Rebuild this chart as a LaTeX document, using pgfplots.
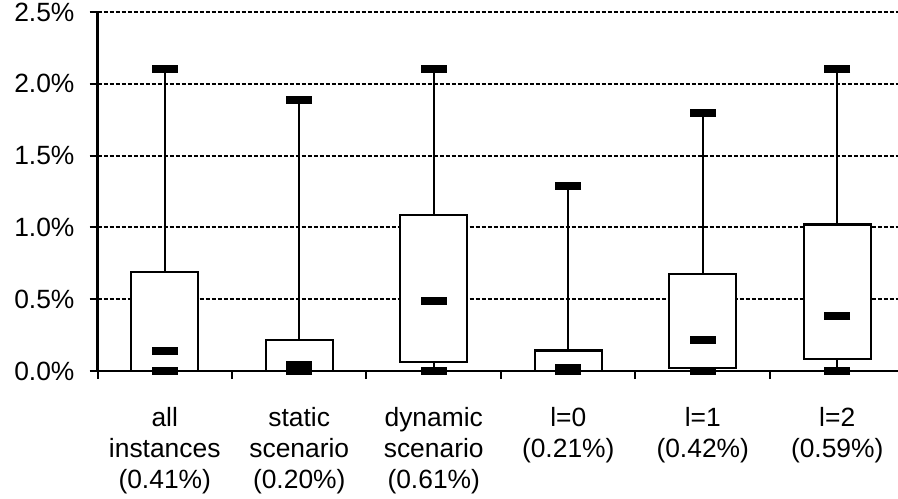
\documentclass[border=0pt]{standalone}
\usepackage{pgfplots}
\pgfplotsset{compat=1.18}
\usepgfplotslibrary{statistics}
\usepackage{fontspec}
\setmainfont{Liberation Sans}
\begin{document}
\begin{tikzpicture}
\useasboundingbox (-48.75pt,-63.5pt) rectangle (400.25pt,185.5pt);
\begin{axis}[
  at={(0pt,0pt)}, anchor=south west,
  scale only axis,
  width=400.25pt, height=179.5pt,
  xmin=0, xmax=5.952,
  ymin=0, ymax=2.5,
  axis lines=left,
  axis line style={-, line width=1.15pt},
  tick align=outside,
  major tick length=4pt,
  tick style={black, line width=1pt},
  xtick={0,1,2,3,4,5},
  xticklabels={},
  extra x ticks={0.5,1.5,2.5,3.5,4.5,5.5},
  extra x tick labels={{all\\instances\\(0.41\%)},{static\\scenario\\(0.20\%)},{dynamic\\scenario\\(0.61\%)},{l=0\\(0.21\%)},{l=1\\(0.42\%)},{l=2\\(0.59\%)}},
  extra x tick style={major tick length=0pt, grid=none,
    xticklabel style={align=center, anchor=north, yshift=-14.5pt}},
  ytick={0,0.5,1,1.5,2,2.5},
  yticklabel={\pgfmathprintnumber[fixed,fixed zerofill,precision=1]{\tick}\%},
  /pgf/number format/assume math mode=true,
  ticklabel style={font=\fontsize{13.2}{15.6}\selectfont},
  yticklabel style={xshift=-4pt},
  ymajorgrids,
  grid style={black, line width=1pt, dash pattern=on 2.2pt off 0.8pt},
  clip=false,
  boxplot/draw direction=y,
  boxplot/draw/median/.code={},
]
\addplot[boxplot prepared={draw position=0.5, lower whisker=0, lower quartile=0, median=0.14, upper quartile=0.69, upper whisker=2.10, box extend=0.5, whisker extend=0}, black, fill=white, line width=1.1pt] coordinates {};
\addplot[boxplot prepared={draw position=1.5, lower whisker=0, lower quartile=0, median=0.04, upper quartile=0.216, upper whisker=1.89, box extend=0.5, whisker extend=0}, black, fill=white, line width=1.1pt] coordinates {};
\addplot[boxplot prepared={draw position=2.5, lower whisker=0, lower quartile=0.061, median=0.485, upper quartile=1.085, upper whisker=2.10, box extend=0.5, whisker extend=0}, black, fill=white, line width=1.1pt] coordinates {};
\addplot[boxplot prepared={draw position=3.5, lower whisker=0, lower quartile=0, median=0.02, upper quartile=0.143, upper whisker=1.285, box extend=0.5, whisker extend=0}, black, fill=white, line width=1.1pt] coordinates {};
\addplot[boxplot prepared={draw position=4.5, lower whisker=0, lower quartile=0.019, median=0.216, upper quartile=0.677, upper whisker=1.80, box extend=0.5, whisker extend=0}, black, fill=white, line width=1.1pt] coordinates {};
\addplot[boxplot prepared={draw position=5.5, lower whisker=0, lower quartile=0.082, median=0.386, upper quartile=1.02, upper whisker=2.10, box extend=0.5, whisker extend=0}, black, fill=white, line width=1.1pt] coordinates {};
% max, median, min markers
\addplot[only marks, mark=-, mark size=6.5pt, mark options={line width=4pt, black}] coordinates {
  (0.5,2.10) (0.5,0.14) (0.5,0)
  (1.5,1.89) (1.5,0.04) (1.5,0)
  (2.5,2.10) (2.5,0.485) (2.5,0)
  (3.5,1.285) (3.5,0.02) (3.5,0)
  (4.5,1.80) (4.5,0.216) (4.5,0)
  (5.5,2.10) (5.5,0.386) (5.5,0)
};
\end{axis}
\end{tikzpicture}
\end{document}
